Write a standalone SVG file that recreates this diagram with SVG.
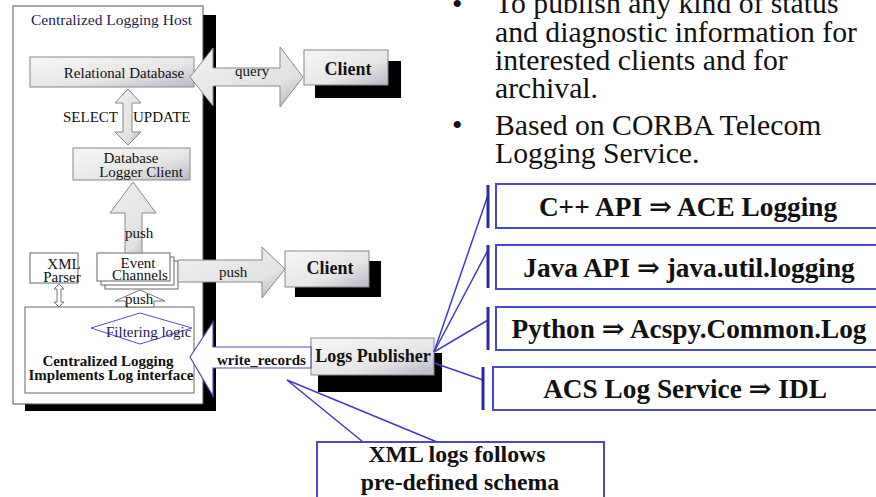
<svg xmlns="http://www.w3.org/2000/svg" width="876" height="497" viewBox="0 0 876 497" font-family="'Liberation Serif', 'DejaVu Serif', serif">
<defs>
<linearGradient id="gbox" x1="0" y1="0" x2="1" y2="1">
<stop offset="0" stop-color="#f6f6f6"/>
<stop offset="0.6" stop-color="#e6e6e6"/>
<stop offset="1" stop-color="#b8b8c8"/>
</linearGradient>
<linearGradient id="garrow" x1="0" y1="0" x2="1" y2="1">
<stop offset="0" stop-color="#f0f0f0"/>
<stop offset="0.7" stop-color="#e2e2e2"/>
<stop offset="1" stop-color="#b0b0b0"/>
</linearGradient>
</defs>
<style>
text{font-family:'Liberation Serif','DejaVu Serif',serif;fill:#111}
.sm{font-size:15px}
.smb{font-size:15px;font-weight:bold}
.nav{fill:#1c1c50}
.cl{font-size:18px;font-weight:bold}
.big{font-size:27.3px;font-weight:bold;text-anchor:middle}
.bul{font-size:29.7px}
.mid{text-anchor:middle}
.gbox{fill:url(#gbox);stroke:#888;stroke-width:1}
.wbox{fill:#fff;stroke:#666;stroke-width:1}
.shadow{fill:#000}
.garr{fill:url(#garrow);stroke:#888;stroke-width:1}
.warr{fill:#fff;stroke:#777;stroke-width:1}
.blue{stroke:#3c3cc8;stroke-width:1.5;fill:none}
.bbox{fill:#fff;stroke:#4848c8;stroke-width:2}
.bar{stroke:#2a2aa0;stroke-width:3}
.call{font-size:23.8px;font-weight:bold;text-anchor:middle}
</style>

<g id="host">
<rect class="shadow" x="25" y="15" width="191" height="396"/>
<rect x="13" y="6" width="190" height="398" fill="#fff" stroke="#555" stroke-width="1"/>
<text class="sm nav" x="31" y="25" style="font-size:15.5px">Centralized Logging Host</text>
</g>

<g id="relational-db">
<rect class="gbox" x="30" y="57" width="164" height="30"/>
<text class="sm mid" x="124" y="78">Relational Database</text>
</g>

<g id="db-logger-client">
<rect class="gbox" x="73" y="148" width="117" height="32"/>
<text class="sm mid" x="131" y="163">Database</text>
<text class="sm mid" x="141" y="177">Logger Client</text>
</g>

<g id="xml-parser">
<rect class="wbox" x="30" y="253" width="48" height="30"/>
<text class="sm mid" x="64" y="269">XML</text>
<text class="sm mid" x="62" y="282">Parser</text>
</g>

<g id="event-channels">
<rect class="wbox" x="105" y="261" width="73" height="28"/>
<rect class="wbox" x="101" y="257" width="73" height="28"/>
<rect class="wbox" x="97" y="253" width="73" height="28"/>
<text class="sm mid" x="138" y="268">Event</text>
<text class="sm mid" x="140" y="280">Channels</text>
</g>

<g id="centralized-logging">
<rect class="wbox" x="25" y="307" width="169" height="86"/>
<polygon points="91,328 140,313 192,328 140,344" fill="#fff" stroke="#5050c0" stroke-width="1"/>
<text class="sm nav" x="106" y="337">Filtering logic</text>
<text class="smb mid" x="108" y="366">Centralized Logging</text>
<text class="smb mid" x="111" y="380">Implements Log interface</text>
</g>

<g id="client-1">
<rect class="shadow" x="315" y="61" width="86" height="37"/>
<rect class="gbox" x="304" y="50" width="84" height="35"/>
<text class="cl mid" x="348" y="75">Client</text>
</g>

<g id="client-2">
<rect class="shadow" x="295" y="261" width="86" height="36"/>
<rect class="gbox" x="285" y="251" width="84" height="36"/>
<text class="cl mid" x="330" y="274">Client</text>
</g>

<g id="logs-publisher">
<rect class="shadow" x="318" y="353" width="124" height="39"/>
<rect class="gbox" x="311" y="338" width="123" height="37"/>
<text class="cl mid" x="373" y="362">Logs Publisher</text>
</g>

<g id="connectors">
<polygon class="garr" points="190,77 213,48 213,68 280,68 280,47 303,77 280,107 280,86 213,86 213,106"/>
<text class="sm" x="235" y="76">query</text>
<polygon class="garr" points="128,89 141,103 132,103 132,132 141,132 128,145 115,132 123,132 123,103 115,103"/>
<text class="sm" x="63" y="122">SELECT</text>
<text class="sm" x="133" y="122">UPDATE</text>
<polygon class="garr" points="133,182 156,213 142,213 142,253 125,253 125,213 110,213"/>
<text class="sm" x="125" y="238">push</text>
<polygon class="garr" points="178,260 262,260 262,247 285,269 262,298 262,282 178,282"/>
<text class="sm" x="219" y="277">push</text>
<polygon class="warr" points="140,290 165,301 154,301 154,307 126,307 126,301 115,301"/>
<text class="sm" x="125" y="304">push</text>
<polygon class="warr" points="59,284 64,289 61,289 61,302 64,302 59,307 54,302 57,302 57,289 54,289"/>
<polygon points="190,357 213,322 213,347 311,347 311,368 213,368 213,396" fill="#fff" stroke="#5050b0" stroke-width="1.2"/>
<text class="smb" x="217" y="365">write_records</text>
<line class="blue" x1="434" y1="352" x2="488" y2="195"/>
<line class="blue" x1="434" y1="352" x2="488" y2="250"/>
<line class="blue" x1="434" y1="352" x2="488" y2="320"/>
<line class="blue" x1="434" y1="363" x2="483" y2="380"/>
<polyline class="blue" points="363,442 287,380 437,442"/>
</g>

<g id="cpp-api">
<line class="bar" x1="488" y1="185" x2="488" y2="228"/>
<rect class="bbox" x="496" y="184" width="390" height="44"/>
<text class="big" x="688" y="216">C++ API ⇒ ACE Logging</text>
</g>

<g id="java-api">
<line class="bar" x1="488" y1="245" x2="488" y2="288"/>
<rect class="bbox" x="496" y="245" width="390" height="44"/>
<text class="big" x="689" y="277">Java API ⇒ java.util.logging</text>
</g>

<g id="python-api">
<line class="bar" x1="488" y1="307" x2="488" y2="350"/>
<rect class="bbox" x="496" y="307" width="390" height="43"/>
<text class="big" x="689" y="338">Python ⇒ Acspy.Common.Log</text>
</g>

<g id="acs-log-service">
<line class="bar" x1="483" y1="367" x2="483" y2="410"/>
<rect class="bbox" x="493" y="367" width="393" height="43"/>
<text class="big" x="685" y="398">ACS Log Service ⇒ IDL</text>
</g>

<g id="xml-callout">
<rect class="bbox" x="317" y="442" width="287" height="70"/>
<text class="call" x="457" y="462">XML logs follows</text>
<text class="call" x="460" y="490">pre-defined schema</text>
</g>

<g id="bullets">
<text class="bul" x="452" y="14">•</text>
<text class="bul" x="495" y="13">To publish any kind of status</text>
<text class="bul" x="495" y="42">and diagnostic information for</text>
<text class="bul" x="495" y="70">interested clients and for</text>
<text class="bul" x="495" y="98">archival.</text>
<text class="bul" x="452" y="135">•</text>
<text class="bul" x="495" y="135">Based on CORBA Telecom</text>
<text class="bul" x="495" y="163">Logging Service.</text>
</g>
</svg>
